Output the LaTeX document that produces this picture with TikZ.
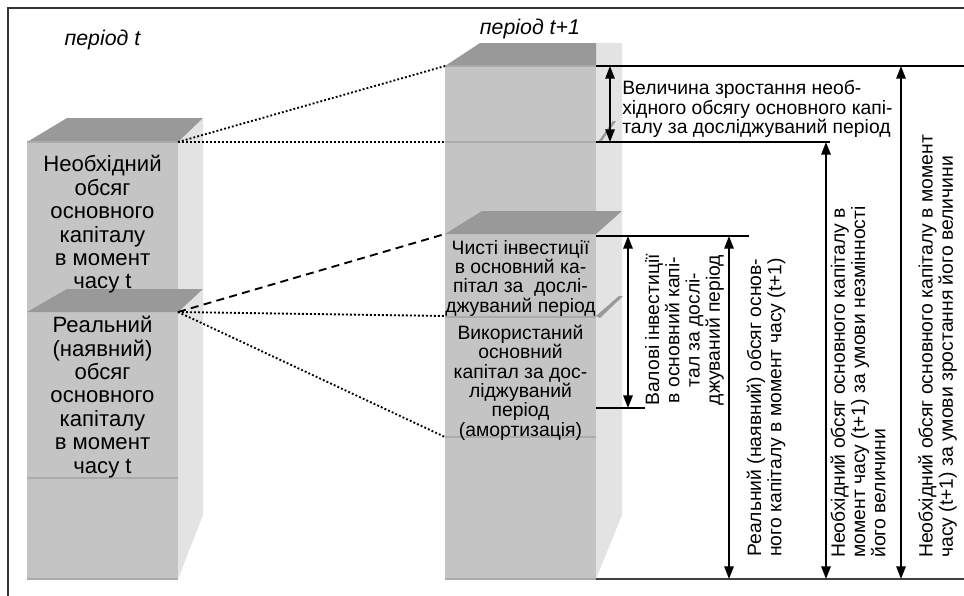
\documentclass[tikz,border=0pt]{standalone}
\usepackage{fontspec}
\setmainfont{Liberation Sans}
\usetikzlibrary{arrows.meta}
\definecolor{frontgray}{HTML}{C4C4C4}
\definecolor{topgray}{HTML}{999999}
\definecolor{sidegray}{HTML}{E3E3E3}
\definecolor{edgegray}{HTML}{ABABAB}
\definecolor{framegray}{HTML}{333333}
\tikzset{
  frontface/.style={fill=frontgray},
  topface/.style={fill=topgray},
  sideface/.style={fill=sidegray},
  edgeline/.style={draw=edgegray, line width=1.5pt},
  dotline/.style={line width=1.4pt, dash pattern=on 1.4pt off 1.6pt},
  dashline/.style={line width=1.4pt, dash pattern=on 6pt off 4pt},
  refline/.style={line width=0.9pt},
  dimarrow/.style={line width=1.5pt, {Triangle[length=9.5pt,width=7pt]}-{Triangle[length=9.5pt,width=7pt]}},
  bigtxt/.style={font=\fontsize{16.6}{17.55}\selectfont, align=center, inner sep=0pt},
  midtxt/.style={font=\fontsize{14.5}{14.5}\selectfont, align=center, inner sep=0pt},
  sidetxt/.style={font=\fontsize{14.5}{14.8}\selectfont, align=left, inner sep=0pt},
  rottxt/.style={font=\fontsize{14.5}{15.2}\selectfont, rotate=90, inner sep=0pt},
  titletxt/.style={font=\fontsize{16}{17}\selectfont\itshape, inner sep=0pt}
}
\begin{document}
\begin{tikzpicture}[x=0.75pt,y=-0.75pt]
\useasboundingbox (0,0) rectangle (964,596);
% frame
\draw[framegray, line width=1.1pt] (8,600) -- (8,8) -- (970,8);

% ---------- left block (period t)
\fill[sideface] (178,142) -- (203,118) -- (203,515) -- (178,579) -- cycle;
\fill[frontface] (27,142) rectangle (178,579);
\fill[topface] (27,142) -- (67,118) -- (203,118) -- (178,142) -- cycle;
\fill[topface] (27,312) -- (67,289) -- (203,289) -- (178,312) -- cycle;
\draw[edgeline] (27,142) -- (178,142);
\draw[edgeline] (27,478) -- (178,478);
\draw[edgeline] (27,579) -- (178,579);

% ---------- middle block (period t+1)
\fill[sideface] (596,43) -- (622,43) -- (622,515) -- (596,579) -- cycle;
\fill[frontface] (445,66) rectangle (596,579);
\fill[topface] (445,66) -- (480,43) -- (596,43) -- (596,66) -- cycle;
\fill[topface] (445,234) -- (482,211) -- (622,211) -- (596,234) -- cycle;
\fill[topface] (596,316) -- (619,296) -- (623,296) -- (600,318) -- cycle;
\fill[topface] (598,142) -- (613,121) -- (616,121) -- (601,142) -- cycle;
\draw[edgeline] (445,66) -- (596,66);
\draw[edgeline] (445,142) -- (596,142);
\draw[edgeline, line width=2.2pt] (445,317) -- (596,317);
\draw[edgeline] (445,437) -- (596,437);
\draw[edgeline] (445,579) -- (596,579);

% ---------- named points
\coordinate (Ltop) at (178,142);
\coordinate (Lmid) at (178,312);
\coordinate (Mtop) at (445,66);
\coordinate (Mnec) at (445,142);
\coordinate (Mslab) at (445,234);
\coordinate (Mthin) at (445,316);
\coordinate (Mam) at (445,437);

\coordinate (R1a) at (596,66);   \coordinate (R1b) at (964,66);
\coordinate (R2a) at (596,142);  \coordinate (R2b) at (830,142);
\coordinate (R3a) at (596,236);  \coordinate (R3b) at (749,236);
\coordinate (R4a) at (596,408);  \coordinate (R4b) at (645,408);
\coordinate (R5a) at (596,579);  \coordinate (R5b) at (964,579);

\coordinate (A1t) at (610,66);  \coordinate (A1b) at (610,142);
\coordinate (A2t) at (628,236); \coordinate (A2b) at (628,408);
\coordinate (A3t) at (729,236); \coordinate (A3b) at (729,579);
\coordinate (A4t) at (826,142); \coordinate (A4b) at (826,579);
\coordinate (A5t) at (901,66);  \coordinate (A5b) at (901,579);

% ---------- connectors between the blocks
\draw[dotline] (Ltop) -- (Mtop);
\draw[dotline] (Ltop) -- (Mnec);
\draw[dashline] (Lmid) -- (Mslab);
\draw[dotline] (Lmid) -- (Mthin);
\draw[dotline] (Lmid) -- (Mam);

% ---------- reference lines
\draw[refline] (R1a) -- (R1b);
\draw[refline] (R2a) -- (R2b);
\draw[refline] (R3a) -- (R3b);
\draw[refline] (R4a) -- (R4b);
\draw[line width=1.4pt, draw=black!75] (R5a) -- (R5b);

% ---------- dimension arrows
\draw[dimarrow] (A1t) -- (A1b);
\draw[dimarrow] (A2t) -- (A2b);
\draw[dimarrow] (A3t) -- (A3b);
\draw[dimarrow] (A4t) -- (A4b);
\draw[dimarrow] (A5t) -- (A5b);

% ---------- titles
\node[titletxt] (tL) at (102.5,40) {період t};
\node[titletxt] (tM) at (530,29) {період t+1};

% ---------- texts in the left block
\node[bigtxt] (Lneed) at (102.5,224.5) {Необхідний\\обсяг\\основного\\капіталу\\в момент\\часу t};
\node[bigtxt] (Lreal) at (102.5,397) {Реальний\\(наявний)\\обсяг\\основного\\капіталу\\в момент\\часу t};

% ---------- texts in the middle block
\node[midtxt] (Mnet) at (520.5,278) {Чисті інвестиції\\в основний ка-\\пітал за~~дослі-\\джуваний період};
\node[midtxt] (Mdep) at (520.5,382.5) {Використаний\\основний\\капітал за дос-\\ліджуваний\\період\\(амортизація)};

% ---------- texts on the right
\node[sidetxt, anchor=west] (Rgrow) at (622,109) {Величина зростання необ-\\хідного обсягу основного капі-\\талу за досліджуваний період};
\node[rottxt, align=center] (Rgross) at (684.5,330) {Валові інвестиції\\в основний капі-\\тал за дослі-\\джуваний період};
\node[rottxt, align=left, anchor=west] (Rreal) at (766,557) {Реальний (наявний) обсяг основ-\\ного капіталу в момент часу (t+1)};
\node[rottxt, align=left, anchor=west] (Rconst) at (858,558) {Необхідний обсяг основного капіталу в\\момент часу (t+1) за умови незмінності\\його величини};
\node[rottxt, align=left, anchor=west] (Rinc) at (937.5,558) {Необхідний обсяг основного капіталу в момент\\часу (t+1) за умови зростання його величини};
\end{tikzpicture}
\end{document}
